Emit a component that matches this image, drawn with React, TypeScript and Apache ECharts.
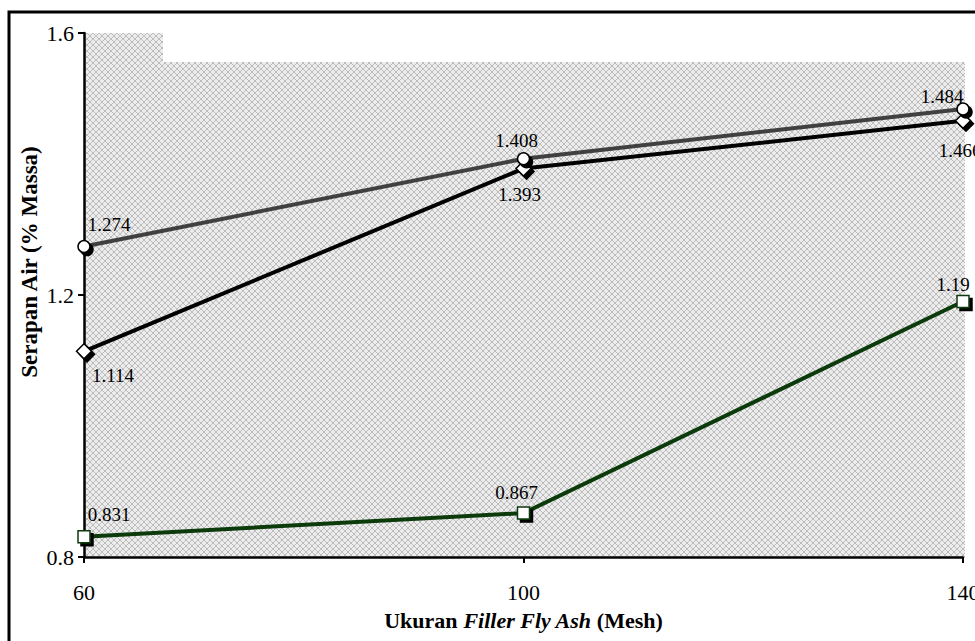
import React, { useEffect, useRef } from "react";
import * as echarts from "echarts";

const xValues = [60, 100, 140];
const circleValues = [1.274, 1.408, 1.484];
const diamondValues = [1.114, 1.393, 1.466];
const squareValues = [0.831, 0.867, 1.19];
const circleLabelOffsets = [[25, -22], [-7, -18], [-21, -12]];
const diamondLabelOffsets = [[29, 24], [-4, 26], [-3, 30]];
const squareLabelOffsets = [[25, -22], [-7, -21], [-10, -17]];
const yAxisTitle = "Serapan Air (% Massa)";

function makePattern(): string {
  const c = document.createElement("canvas");
  c.width = 6;
  c.height = 6;
  const ctx = c.getContext("2d")!;
  ctx.fillStyle = "#ececec";
  ctx.fillRect(0, 0, 6, 6);
  ctx.fillStyle = "#bcbcbc";
  const pts = [[0, 0], [1, 1], [2, 2], [3, 3], [4, 4], [5, 5], [5, 0], [4, 1], [3, 2], [2, 3], [1, 4], [0, 5]];
  pts.forEach(([x, y]) => ctx.fillRect(x, y, 1, 1));
  return c.toDataURL();
}

export default function App() {
  const ref = useRef<HTMLDivElement>(null);
  useEffect(() => {
    document.body.style.margin = "0";
    const chart = echarts.init(ref.current!, null, { renderer: "svg" });
    const pattern = { image: makePattern(), repeat: "repeat" } as any;
    const font = "Liberation Serif";
    const mk = (vals: number[], offs: number[][]) =>
      vals.map((v, i) => ({
        value: [xValues[i], v],
        label: { offset: offs[i] },
      }));
    const labelBase = {
      show: true,
      position: "inside",
      color: "#000",
      fontFamily: font,
      fontSize: 19,
      formatter: (p: any) => String(p.value[1]),
    };
    const shadow = { shadowColor: "#000", shadowOffsetX: 3, shadowOffsetY: 3, shadowBlur: 0 };
    chart.setOption({
      animation: false,
      backgroundColor: "#fff",
      grid: { left: 84, top: 33, right: 12, bottom: 84, containLabel: false, outerBoundsMode: "none" },
      graphic: [
        { type: "rect", z: -20, shape: { x: 9, y: 12, width: 1100, height: 800 }, style: { fill: "#fff", stroke: "#000", lineWidth: 3 } },
        { type: "rect", z: -10, shape: { x: 85, y: 62, width: 880, height: 495 }, style: { fill: pattern } },
        { type: "rect", z: -10, shape: { x: 85, y: 33, width: 78, height: 30 }, style: { fill: pattern } },
        {
          type: "text",
          x: 29,
          y: 262,
          rotation: Math.PI / 2,
          style: {
            text: yAxisTitle,
            fontFamily: font,
            fontSize: 23,
            fontWeight: "bold",
            fill: "#000",
            align: "center",
            verticalAlign: "middle",
          },
        },
      ],
      xAxis: {
        type: "value",
        min: 60,
        max: 140,
        interval: 40,
        splitLine: { show: false },
        axisLine: { lineStyle: { color: "#000", width: 2.5 } },
        axisTick: { show: true, length: 6, lineStyle: { color: "#000", width: 2 } },
        axisLabel: { color: "#000", fontFamily: font, fontSize: 22, margin: 24 },
        name: "{b|Ukuran }{bi|Filler Fly Ash}{b| (Mesh)}",
        nameLocation: "middle",
        nameGap: 52,
        nameTextStyle: {
          rich: {
            b: { fontFamily: font, fontSize: 22, fontWeight: "bold", color: "#000" },
            bi: { fontFamily: font, fontSize: 22, fontWeight: "bold", fontStyle: "italic", color: "#000" },
          },
        },
      },
      yAxis: {
        type: "value",
        min: 0.8,
        max: 1.6,
        interval: 0.4,
        splitLine: { show: false },
        axisLine: { show: true, lineStyle: { color: "#000", width: 2.5 } },
        axisTick: { show: true, length: 6, lineStyle: { color: "#000", width: 2 } },
        axisLabel: { color: "#000", fontFamily: font, fontSize: 22, margin: 10 },
      },
      series: [
        {
          type: "line",
          data: mk(squareValues, squareLabelOffsets),
          symbol: "rect",
          symbolSize: 12,
          lineStyle: { color: "#0b3a0b", width: 4 },
          itemStyle: { color: "#fff", borderColor: "#0b3a0b", borderWidth: 1.5, ...shadow },
          label: labelBase,
          z: 3,
        },
        {
          type: "line",
          data: mk(diamondValues, diamondLabelOffsets),
          symbol: "diamond",
          symbolSize: 15,
          lineStyle: { color: "#000", width: 4 },
          itemStyle: { color: "#fff", borderColor: "#000", borderWidth: 1.5, ...shadow },
          label: labelBase,
          z: 4,
        },
        {
          type: "line",
          data: mk(circleValues, circleLabelOffsets),
          symbol: "circle",
          symbolSize: 12,
          lineStyle: { color: "#404040", width: 4 },
          itemStyle: { color: "#fff", borderColor: "#000", borderWidth: 1.5, ...shadow },
          label: labelBase,
          z: 5,
        },
      ],
    });
    return () => chart.dispose();
  }, []);
  return <div ref={ref} style={{ width: 975, height: 641 }} />;
}
